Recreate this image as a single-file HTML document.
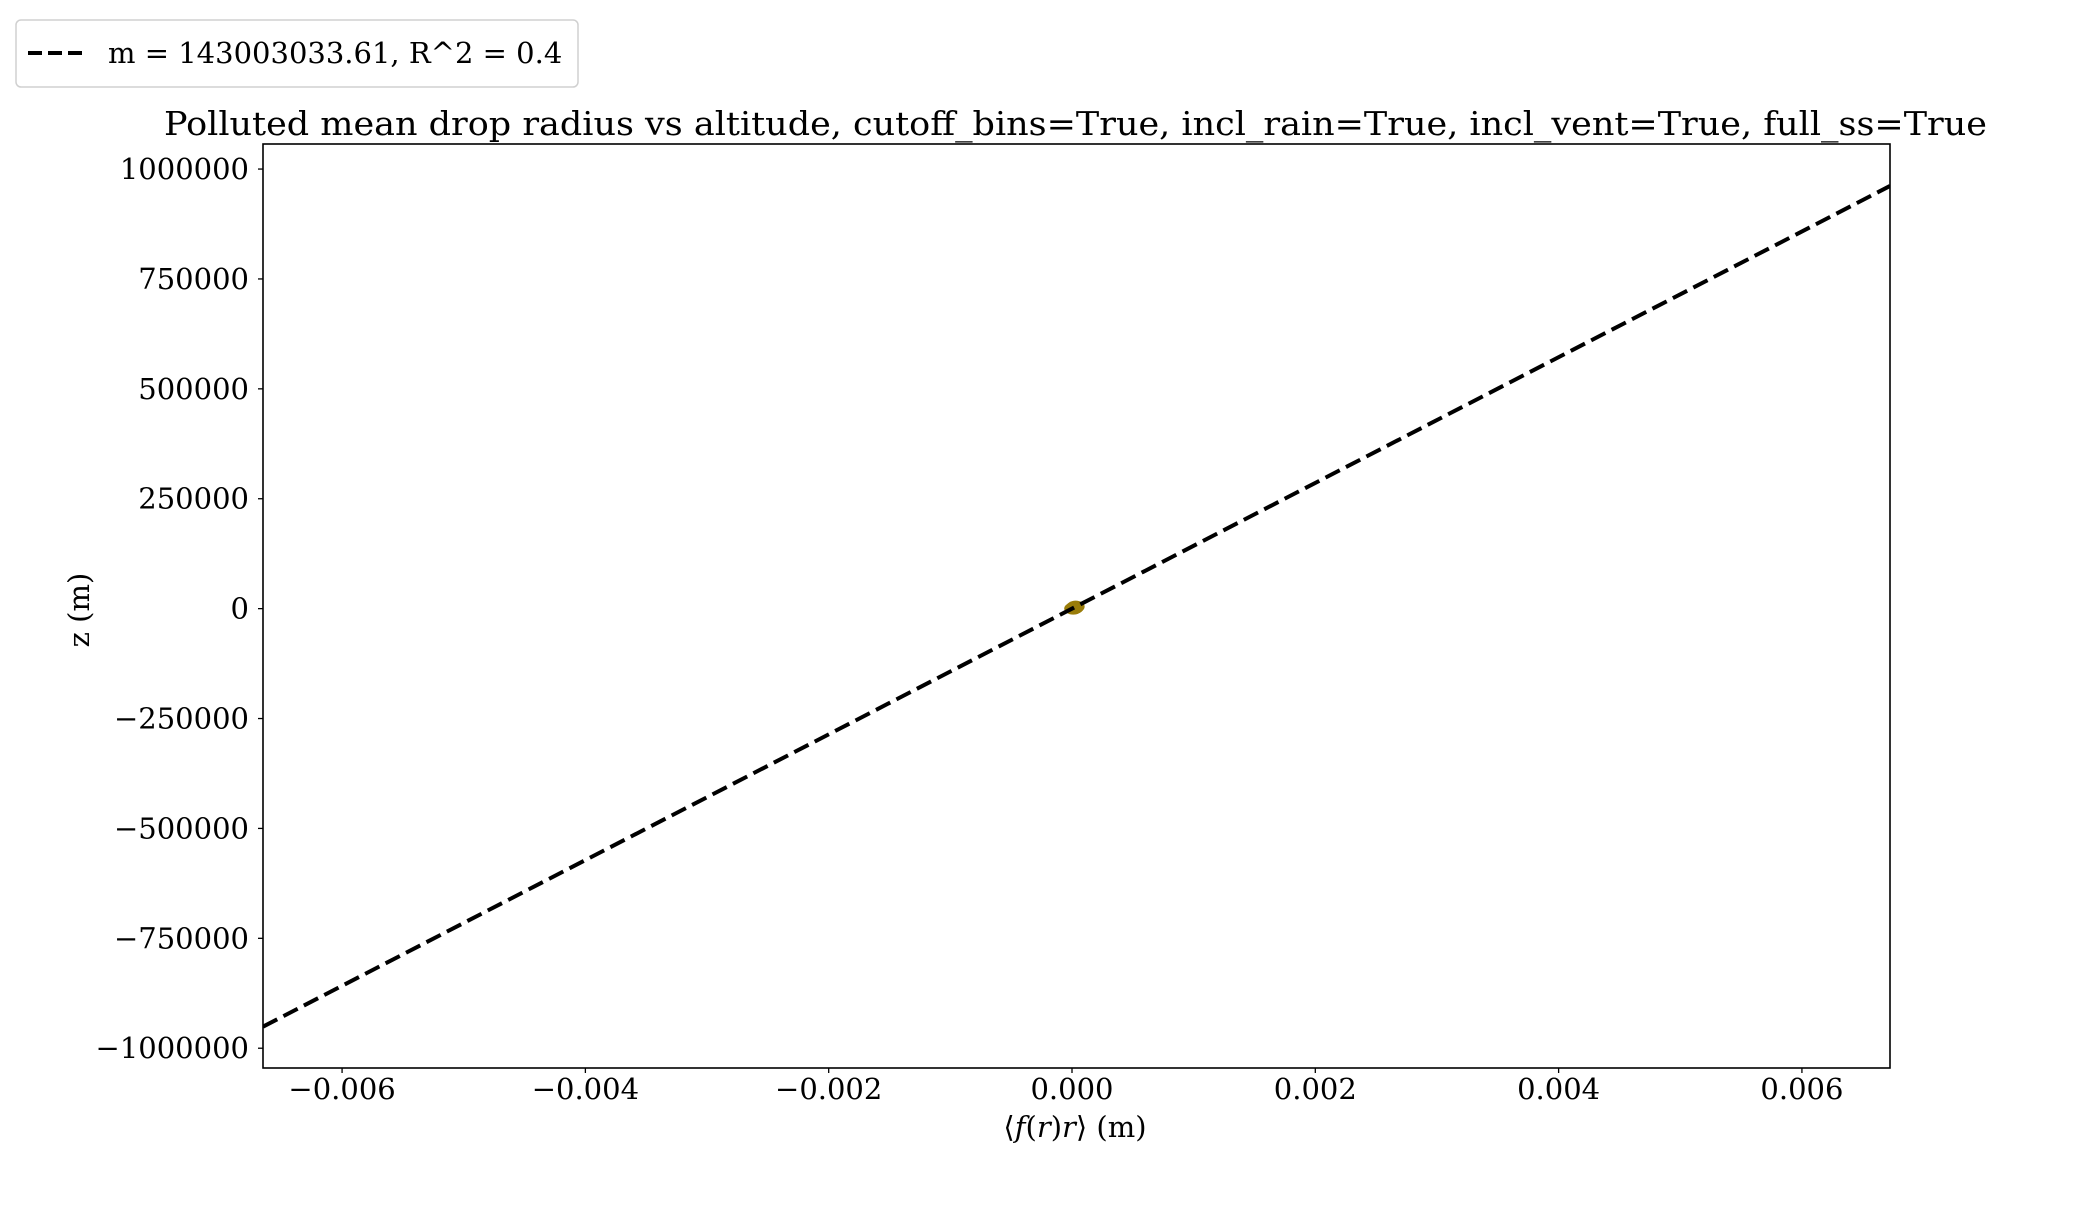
<!DOCTYPE html>
<html><head><meta charset="utf-8"><style>
html,body{margin:0;padding:0;background:#fff;}
svg text{font-family:"DejaVu Serif","Liberation Serif",serif;fill:#000;}
</style></head><body>
<svg id="chart" width="2100" height="1200" viewBox="0 0 2100 1200" xmlns="http://www.w3.org/2000/svg">
<rect x="0" y="0" width="2100" height="1200" fill="#fff"/>
<g>
<rect x="16" y="20" width="562" height="67" rx="5" fill="#fff" stroke="#d0d0d0" stroke-width="1.5"/>
<line x1="28" y1="53" x2="86" y2="53" stroke="#000" stroke-width="4" stroke-dasharray="14,6"/>
<text x="108" y="63" font-size="29">m = 143003033.61, R^2 = 0.4</text>
</g>
<text x="164" y="135" font-size="33" textLength="1823" lengthAdjust="spacingAndGlyphs">Polluted mean drop radius vs altitude, cutoff_bins=True, incl_rain=True, incl_vent=True, full_ss=True</text>
<g id="plot"></g>
<rect x="263" y="144" width="1627" height="924" fill="none" stroke="#000" stroke-width="1.6"/>
<text x="1075" y="1137" font-size="29" text-anchor="middle">⟨<tspan font-style="italic">f</tspan>(<tspan font-style="italic">r</tspan>)<tspan font-style="italic">r</tspan>⟩ (m)</text>
<text transform="translate(89,610) rotate(-90)" font-size="29" text-anchor="middle">z (m)</text>
</svg>
<script>
const xTicks = [-0.006, -0.004, -0.002, 0.000, 0.002, 0.004, 0.006];
const xTickLabels = ["\u22120.006", "\u22120.004", "\u22120.002", "0.000", "0.002", "0.004", "0.006"];
const yTicks = [-1000000, -750000, -500000, -250000, 0, 250000, 500000, 750000, 1000000];
const yTickLabels = ["\u22121000000", "\u2212750000", "\u2212500000", "\u2212250000", "0", "250000", "500000", "750000", "1000000"];
const fitSlope = 143003033.61;
const fitIntercept = 0;
const pointsX = [0.00001, 0.00002, 0.000025, 0.00003, 0.000015];
const pointsZ = [0, 1500, 3000, 4500, 800];

const L=263,R=1890,T=144,B=1068;
const xMin=-0.00665,xMax=0.006724,yMin=-1045000,yMax=1057000;
function sx(v){return L+(v-xMin)/(xMax-xMin)*(R-L);}
function sy(v){return B-(v-yMin)/(yMax-yMin)*(B-T);}
const NS="http://www.w3.org/2000/svg";
const svg=document.getElementById('chart');
const plot=document.getElementById('plot');
function mk(tag,attrs,parent){const e=document.createElementNS(NS,tag);for(const k in attrs)e.setAttribute(k,attrs[k]);(parent||svg).appendChild(e);return e;}

const clip=mk('clipPath',{id:'clip'});
mk('rect',{x:L,y:T,width:R-L,height:B-T},clip);
plot.setAttribute('clip-path','url(#clip)');

pointsX.forEach((px,i)=>{
  const c=mk('ellipse',{cx:sx(px),cy:sy(pointsZ[i]),rx:9,ry:6,fill:'#9a7d0a'},plot);
  
  
});
const fit=mk('line',{x1:sx(xMin),y1:sy(fitSlope*xMin+fitIntercept),x2:sx(xMax),y2:sy(fitSlope*xMax+fitIntercept),stroke:'#000','stroke-width':4,'stroke-dasharray':'16,7'},plot);



xTicks.forEach((v,i)=>{
  const x=sx(v);
  const t=mk('line',{x1:x,y1:B,x2:x,y2:B+5,stroke:'#000','stroke-width':1.3});
  
  
  const l=mk('text',{x:x,y:1099,'font-size':29,'text-anchor':'middle'});
  l.textContent=xTickLabels[i];
  
  
});
yTicks.forEach((v,i)=>{
  const y=sy(v);
  const t=mk('line',{x1:L-5,y1:y,x2:L,y2:y,stroke:'#000','stroke-width':1.3});
  
  
  const l=mk('text',{x:249,y:y+10,'font-size':29,'text-anchor':'end'});
  l.textContent=yTickLabels[i];
  
  
});
</script>
</body></html>
